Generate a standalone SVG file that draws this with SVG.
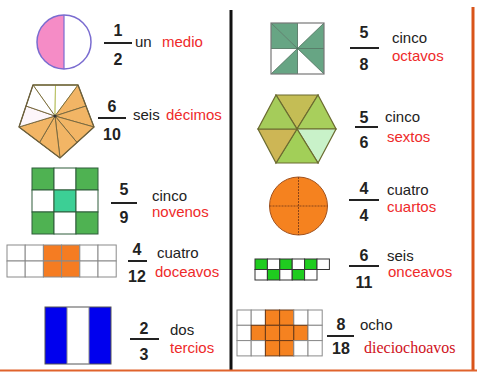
<svg xmlns="http://www.w3.org/2000/svg" width="477" height="372" viewBox="0 0 477 372">
<style>
.num{font-family:"Liberation Sans",Arial,sans-serif;font-size:16px;font-weight:bold;fill:#222;text-anchor:middle}
.bar{stroke:#222;stroke-width:2}
.w{font-family:"Liberation Sans",Arial,sans-serif;font-size:15px;fill:#222}
.r{font-family:"Liberation Sans",Arial,sans-serif;font-size:15px;fill:#ee2a2a}
.rs{font-family:"Liberation Serif","Times New Roman",serif;font-size:16px;fill:#d0121c}
.g1{fill:#fff;stroke:#444;stroke-width:1}
</style>
<rect width="477" height="372" fill="#fff"/>
<line x1="231" y1="10" x2="231" y2="371" stroke="#111" stroke-width="3"/>
<line x1="473" y1="7" x2="473" y2="371" stroke="#d9541a" stroke-width="3"/>
<line x1="0" y1="370.5" x2="477" y2="370.5" stroke="#e0632c" stroke-width="2"/>

<g id="medio">
<path d="M64 15 A27 27 0 0 0 64 69 Z" fill="#f58cc6"/>
<circle cx="64" cy="42" r="27" fill="none" stroke="#7a6cd0" stroke-width="1.5"/>
<line x1="64" y1="15" x2="64" y2="69" stroke="#7a6cd0" stroke-width="1.2"/>
<text class="num" x="118" y="36">1</text>
<line class="bar" x1="104" y1="43" x2="132" y2="43"/>
<text class="num" x="118" y="65">2</text>
<text class="w" x="135" y="47">un</text>
<text class="r" x="162" y="47">medio</text>
</g>

<g id="decimos">
<g stroke="#7a6a40" stroke-width="1">
<polygon points="55,116 33,85 55.5,85" fill="#fff" stroke="#b8c060"/>
<polygon points="55,116 55.5,85 78,85" fill="#fff" stroke="#b8c060"/>
<polygon points="55,116 78,85 86,106" fill="#f2b565"/>
<polygon points="55,116 86,106 94,127" fill="#f2b565"/>
<polygon points="55,116 94,127 77,142.5" fill="#f2b565"/>
<polygon points="55,116 77,142.5 60,158" fill="#f2b565"/>
<polygon points="55,116 60,158 39.5,142.5" fill="#f2b565"/>
<polygon points="55,116 39.5,142.5 19,127" fill="#f2b565"/>
<polygon points="55,116 19,127 26,106" fill="#fdf6fa"/>
<polygon points="55,116 26,106 33,85" fill="#fff"/>
</g>
<polygon points="33,85 78,85 94,127 60,158 19,127" fill="none" stroke="#6b5f3c" stroke-width="1.3"/>
<circle cx="55" cy="116" r="1.5" fill="#333"/>
<text class="num" x="112" y="112">6</text>
<line class="bar" x1="98" y1="118" x2="126" y2="118"/>
<text class="num" x="112" y="140">10</text>
<text class="w" x="133" y="120">seis</text>
<text class="r" x="166" y="120">décimos</text>
</g>

<g id="novenos">
<g stroke="#2f5d3a" stroke-width="1">
<rect x="32" y="168" width="22" height="22" fill="#4fb252"/>
<rect x="54" y="168" width="22" height="22" fill="#fff"/>
<rect x="76" y="168" width="22" height="22" fill="#4fb252"/>
<rect x="32" y="190" width="22" height="22" fill="#fff"/>
<rect x="54" y="190" width="22" height="22" fill="#3ccf95"/>
<rect x="76" y="190" width="22" height="22" fill="#fff"/>
<rect x="32" y="212" width="22" height="22" fill="#4fb252"/>
<rect x="54" y="212" width="22" height="22" fill="#fff"/>
<rect x="76" y="212" width="22" height="22" fill="#4fb252"/>
</g>
<text class="num" x="124" y="195">5</text>
<line class="bar" x1="111" y1="203" x2="137" y2="203"/>
<text class="num" x="124" y="223">9</text>
<text class="w" x="152" y="201">cinco</text>
<text class="r" x="152" y="217">novenos</text>
</g>

<g id="doceavos">
<g stroke="#8a8a8a" stroke-width="1" fill="#fff">
<rect x="7" y="245" width="18.2" height="16"/><rect x="25.2" y="245" width="18.2" height="16"/><rect x="43.4" y="245" width="18.2" height="16" fill="#f57c22"/><rect x="61.6" y="245" width="18.2" height="16" fill="#f57c22"/><rect x="79.8" y="245" width="18.2" height="16"/><rect x="98" y="245" width="18.2" height="16"/>
<rect x="7" y="261" width="18.2" height="16"/><rect x="25.2" y="261" width="18.2" height="16"/><rect x="43.4" y="261" width="18.2" height="16" fill="#f57c22"/><rect x="61.6" y="261" width="18.2" height="16" fill="#f57c22"/><rect x="79.8" y="261" width="18.2" height="16"/><rect x="98" y="261" width="18.2" height="16"/>
</g>
<text class="num" x="137" y="255">4</text>
<line class="bar" x1="128" y1="261" x2="147" y2="261"/>
<text class="num" x="137" y="282">12</text>
<text class="w" x="157" y="258">cuatro</text>
<text class="r" x="155" y="277">doceavos</text>
</g>

<g id="tercios">
<rect x="45" y="307" width="22" height="57" fill="#0000ee"/>
<rect x="67" y="307" width="22" height="57" fill="#fff"/>
<rect x="89" y="307" width="22" height="57" fill="#0000ee"/>
<rect x="45" y="307" width="66" height="57" fill="none" stroke="#555" stroke-width="1"/>
<line x1="67" y1="307" x2="67" y2="364" stroke="#888"/>
<line x1="89" y1="307" x2="89" y2="364" stroke="#888"/>
<text class="num" x="144" y="334">2</text>
<line class="bar" x1="130" y1="339" x2="159" y2="339"/>
<text class="num" x="144" y="360">3</text>
<text class="w" x="170" y="335">dos</text>
<text class="r" x="170" y="353">tercios</text>
</g>

<g id="octavos">
<rect x="271" y="23" width="53" height="51" fill="#fff"/>
<g fill="#67a584">
<polygon points="297.5,48.5 271,23 297.5,23"/>
<polygon points="297.5,48.5 271,48.5 271,23"/>
<polygon points="297.5,48.5 324,23 324,48.5"/>
<polygon points="297.5,48.5 271,74 297.5,74"/>
<polygon points="297.5,48.5 324,48.5 324,74"/>
</g>
<g stroke="#4d6e5c" stroke-width="0.8" fill="none">
<line x1="271" y1="23" x2="324" y2="74"/>
<line x1="324" y1="23" x2="271" y2="74"/>
<line x1="297.5" y1="23" x2="297.5" y2="74"/>
<line x1="271" y1="48.5" x2="324" y2="48.5"/>
</g>
<rect x="271" y="23" width="53" height="51" fill="none" stroke="#777" stroke-width="1.2"/>
<text class="num" x="364" y="38">5</text>
<line class="bar" x1="350" y1="48" x2="379" y2="48"/>
<text class="num" x="364" y="70">8</text>
<text class="w" x="392" y="43">cinco</text>
<text class="r" x="392" y="61">octavos</text>
</g>

<g id="sextos">
<g stroke="#6b6b30" stroke-width="1.2">
<polygon points="297,129 276,95 318,95" fill="#c4bd55"/>
<polygon points="297,129 318,95 336,129" fill="#a8cf5c"/>
<polygon points="297,129 336,129 318,163" fill="#c9f2c9"/>
<polygon points="297,129 318,163 276,163" fill="#a2cf58"/>
<polygon points="297,129 276,163 258,129" fill="#cdb655"/>
<polygon points="297,129 258,129 276,95" fill="#a5cc5a"/>
</g>
<text class="num" x="364" y="123">5</text>
<line class="bar" x1="355" y1="127" x2="378" y2="127"/>
<text class="num" x="364" y="148">6</text>
<text class="w" x="385" y="122">cinco</text>
<text class="r" x="387" y="142">sextos</text>
</g>

<g id="cuartos">
<circle cx="298.5" cy="206" r="29" fill="#f5821f" stroke="#a0521f" stroke-width="1"/>
<line x1="298.5" y1="177" x2="298.5" y2="235" stroke="#8a4418" stroke-width="1" stroke-dasharray="2 1"/>
<line x1="269.5" y1="206" x2="327.5" y2="206" stroke="#8a4418" stroke-width="1" stroke-dasharray="2 1"/>
<text class="num" x="364" y="194">4</text>
<line class="bar" x1="349" y1="200" x2="379" y2="200"/>
<text class="num" x="364" y="221">4</text>
<text class="w" x="387" y="195">cuatro</text>
<text class="r" x="387" y="212">cuartos</text>
</g>

<g id="onceavos">
<g stroke="#333" stroke-width="1" fill="#fff">
<rect x="255" y="259" width="12.4" height="10.5" fill="#1fcc1f"/><rect x="267.4" y="259" width="12.4" height="10.5"/><rect x="279.8" y="259" width="12.4" height="10.5" fill="#1fcc1f"/><rect x="292.2" y="259" width="12.4" height="10.5"/><rect x="304.6" y="259" width="12.4" height="10.5" fill="#1fcc1f"/><rect x="317" y="259" width="12.4" height="10.5"/>
<rect x="255" y="269.5" width="12.4" height="10.5"/><rect x="267.4" y="269.5" width="12.4" height="10.5" fill="#1fcc1f"/><rect x="279.8" y="269.5" width="12.4" height="10.5"/><rect x="292.2" y="269.5" width="12.4" height="10.5" fill="#1fcc1f"/><rect x="304.6" y="269.5" width="12.4" height="10.5"/>
</g>
<text class="num" x="364" y="261">6</text>
<line class="bar" x1="349" y1="266" x2="379" y2="266"/>
<text class="num" x="364" y="288">11</text>
<text class="w" x="387" y="261">seis</text>
<text class="r" x="388" y="277">onceavos</text>
</g>

<g id="dieciochoavos">
<g stroke="#8a8a8a" stroke-width="1" fill="#fff">
<rect x="237" y="310" width="14.2" height="15.3"/><rect x="251.2" y="310" width="14.2" height="15.3"/><rect x="265.4" y="310" width="14.2" height="15.3" fill="#f58220" stroke="#6a3a18"/><rect x="279.6" y="310" width="14.2" height="15.3" fill="#f58220" stroke="#6a3a18"/><rect x="293.8" y="310" width="14.2" height="15.3"/><rect x="308" y="310" width="14.2" height="15.3"/>
<rect x="237" y="325.3" width="14.2" height="15.3"/><rect x="251.2" y="325.3" width="14.2" height="15.3" fill="#f58220" stroke="#6a3a18"/><rect x="265.4" y="325.3" width="14.2" height="15.3" fill="#f58220" stroke="#6a3a18"/><rect x="279.6" y="325.3" width="14.2" height="15.3" fill="#f58220" stroke="#6a3a18"/><rect x="293.8" y="325.3" width="14.2" height="15.3" fill="#f58220" stroke="#6a3a18"/><rect x="308" y="325.3" width="14.2" height="15.3"/>
<rect x="237" y="340.6" width="14.2" height="15.3"/><rect x="251.2" y="340.6" width="14.2" height="15.3"/><rect x="265.4" y="340.6" width="14.2" height="15.3" fill="#f58220" stroke="#6a3a18"/><rect x="279.6" y="340.6" width="14.2" height="15.3" fill="#f58220" stroke="#6a3a18"/><rect x="293.8" y="340.6" width="14.2" height="15.3"/><rect x="308" y="340.6" width="14.2" height="15.3"/>
</g>
<text class="num" x="341" y="330">8</text>
<line class="bar" x1="327" y1="336" x2="354" y2="336"/>
<text class="num" x="341" y="354">18</text>
<text class="w" x="360" y="330">ocho</text>
<text class="rs" x="364" y="353">dieciochoavos</text>
</g>
</svg>
